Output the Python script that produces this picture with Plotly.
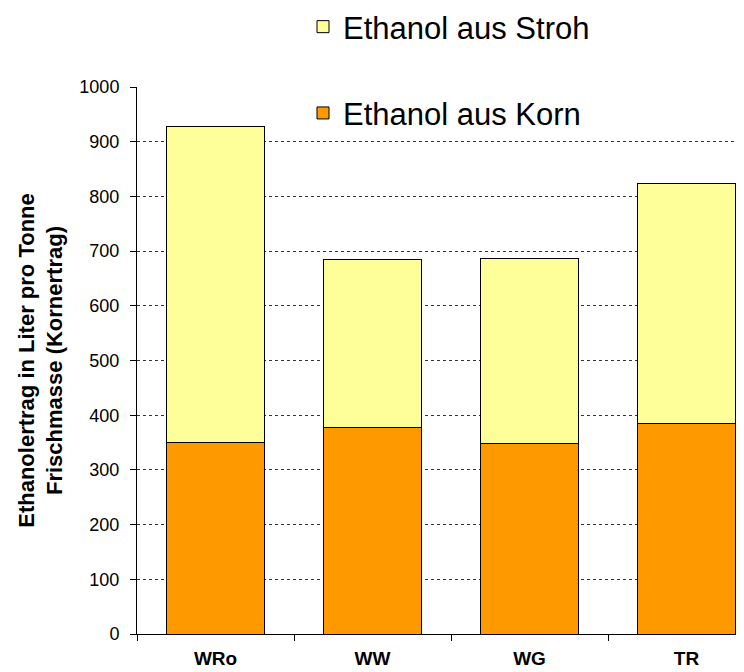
import plotly.graph_objects as go

categories = ["WRo", "WW", "WG", "TR"]
korn = [350, 378, 349, 384]
total = [927, 684, 687, 824]
stroh = [t - k for t, k in zip(total, korn)]
y_ticks = list(range(0, 1001, 100))

FONT = "Liberation Sans, Arial, sans-serif"

fig = go.Figure()
fig.add_trace(go.Bar(
    x=categories, y=korn, name="Ethanol aus Korn", legendgroup="korn",
    legendrank=2,
    marker=dict(color="#FF9900", line=dict(color="#000000", width=1)),
    width=0.624,
))
fig.add_trace(go.Bar(
    x=categories, y=stroh, name="Ethanol aus Stroh", legendgroup="stroh",
    legendrank=1,
    marker=dict(color="#FFFF99", line=dict(color="#000000", width=1)),
    width=0.624,
))

# page body has an 8px margin: figure is sized to fit the window exactly
fig.update_layout(
    width=736, height=664,
    barmode="stack",
    plot_bgcolor="white", paper_bgcolor="white",
    margin=dict(l=129, r=0, t=79, b=38, autoexpand=False),
    font=dict(family=FONT, color="black"),
    showlegend=True,
    legend=dict(
        x=(295 - 129) / 607, xanchor="left",
        y=(626 + 8) / 547, yanchor="top",
        bgcolor="white", borderwidth=0,
        font=dict(size=31, family=FONT, color="black"),
        traceorder="grouped", tracegroupgap=43,
    ),
    xaxis=dict(
        range=[-0.5, 3.366],
        showline=True, linecolor="black", linewidth=1,
        ticks="outside", tickson="boundaries", ticklen=6, tickcolor="black",
        tickfont=dict(size=19, family=FONT, weight="bold"),
        ticklabelstandoff=7,
        showgrid=False, zeroline=False,
    ),
    yaxis=dict(
        range=[0, 1000], tickvals=y_ticks,
        showline=True, linecolor="black", linewidth=1,
        ticks="outside", ticklen=6, tickcolor="black",
        tickfont=dict(size=18, family=FONT),
        ticklabelstandoff=7,
        showgrid=True, gridcolor="#333333", gridwidth=1, griddash="3px,3px",
        zeroline=False,
        title=dict(
            text="Ethanolertrag in Liter pro Tonne<br>Frischmasse (Kornertrag)",
            font=dict(size=22, family=FONT, weight="bold"),
            standoff=10,
        ),
    ),
)

fig.write_html("out.html")
